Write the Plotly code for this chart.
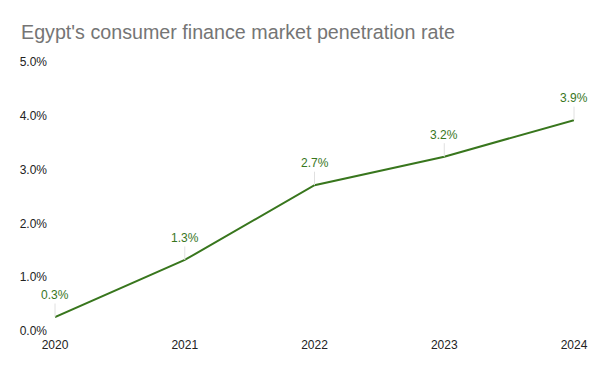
import plotly.graph_objects as go

years = ["2020", "2021", "2022", "2023", "2024"]
rates = [0.26, 1.32, 2.71, 3.24, 3.92]
labels = ["0.3%", "1.3%", "2.7%", "3.2%", "3.9%"]
y_ticks = [0, 1, 2, 3, 4, 5]
y_tick_text = ["0.0%", "1.0%", "2.0%", "3.0%", "4.0%", "5.0%"]

green = "#38761d"
font = "Liberation Sans, Arial, sans-serif"

fig = go.Figure()
fig.add_trace(go.Scatter(
    x=years, y=rates, mode="lines",
    line=dict(color=green, width=2),
    hoverinfo="skip",
))

for i, (yv, t) in enumerate(zip(rates, labels)):
    fig.add_annotation(
        x=i, y=yv, xref="x", yref="y", text=t,
        showarrow=True, arrowhead=0, arrowwidth=1, arrowcolor="#e0e0e0",
        ax=0, ay=-22, standoff=0,
        font=dict(family=font, size=12, color=green),
    )

W, H = 592, 363
fig.update_layout(
    width=W, height=H,
    margin=dict(l=45, r=20, t=54, b=40),
    paper_bgcolor="white", plot_bgcolor="white",
    title=dict(text="Egypt's consumer finance market penetration rate",
               x=13 / W, xanchor="left", y=1 - 24 / H, yanchor="middle",
               font=dict(family=font, size=19.7, color="#757575")),
    showlegend=False,
    font=dict(family=font, size=12, color="#222222"),
)
fig.update_xaxes(
    type="category", showgrid=False, zeroline=False, showline=False,
    ticks="", range=[0, 4], ticklabelstandoff=5,
    tickfont=dict(size=12, color="#222222"),
)
fig.update_yaxes(
    range=[0, 5], tickvals=y_ticks, ticktext=y_tick_text,
    showgrid=False, zeroline=False, showline=False, ticks="",
    ticklabelstandoff=7, tickfont=dict(size=12, color="#222222"),
)

fig.write_html("out.html")
